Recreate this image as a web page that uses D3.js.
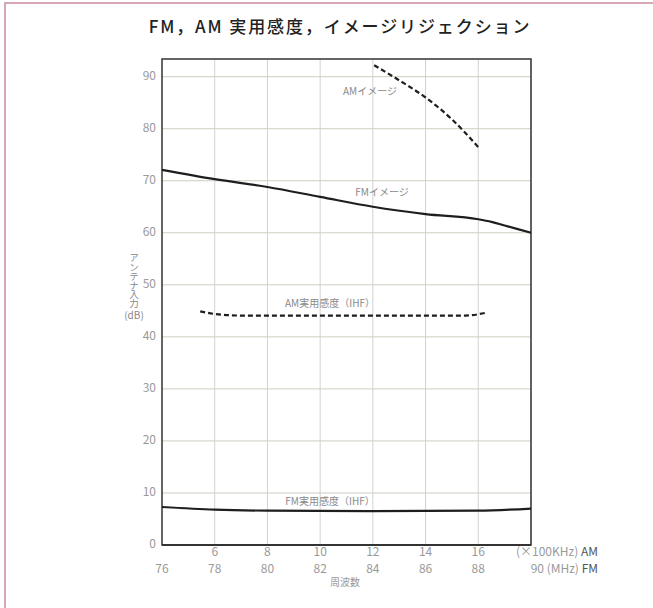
<!DOCTYPE html>
<html lang="ja">
  <head>
    <meta charset="UTF-8" />
    <title>FM, AM 実用感度, イメージリジェクション</title>
    <script src="https://cdnjs.cloudflare.com/ajax/libs/d3/7.8.5/d3.min.js"></script>
    <style>
      body { margin: 0; background: #fff; }
      text { font-family: 'Noto Sans CJK JP', 'Noto Sans', sans-serif; }
    </style>
  </head>
  <body>
    <svg width="653" height="608"></svg>

    <script>
      // FM frequency (MHz) for the FM curves
      const fmImageFreq = [76, 78, 80, 82, 84, 86, 88, 88.5, 89, 90]
      const fmImage = [72.1, 70.3, 68.8, 66.9, 65.0, 63.6, 62.6, 62.1, 61.4, 60.0]
      const fmSensFreq = [76, 78, 80, 84, 88, 90]
      const fmSens = [7.3, 6.8, 6.6, 6.5, 6.6, 7.0]
      // AM frequency (x100kHz) for the AM curves
      const amImageFreq = [12.05, 13, 14, 15, 16.05]
      const amImage = [92.2, 89.3, 86.0, 81.8, 76.2]
      const amSensFreq = [5.45, 6, 7, 8, 10, 12, 14, 15.5, 16.35]
      const amSens = [44.9, 44.4, 44.1, 44.1, 44.1, 44.1, 44.1, 44.1, 44.7]

      const fmTicks = [76, 78, 80, 82, 84, 86, 88]
      const amTicks = [6, 8, 10, 12, 14, 16]
      const yTicks = [0, 10, 20, 30, 40, 50, 60, 70, 80, 90]

      const svg = d3.select('svg')
      const plotL = 162, plotR = 531, plotT = 59, plotB = 545

      // FM scale, AM scale shares the same pixel range (AM 6 = FM 78)
      const x = d3.scaleLinear().domain([76, 90]).range([plotL, plotR])
      const xAm = d3.scaleLinear().domain([4, 18]).range([plotL, plotR])
      const y = d3.scaleLinear().domain([0, 93.4]).range([plotB, plotT])

      // pink page frame (top + left)
      svg.append('line').attr('x1', 4).attr('x2', 653).attr('y1', 3).attr('y2', 3)
        .attr('stroke', '#d9a6b4').attr('stroke-width', 2)
      svg.append('line').attr('x1', 5).attr('x2', 5).attr('y1', 3).attr('y2', 608)
        .attr('stroke', '#d9a6b4').attr('stroke-width', 2)

      // title
      svg.append('text')
        .attr('x', 340).attr('y', 33)
        .attr('text-anchor', 'middle')
        .style('font-size', '17px').style('font-weight', 500)
        .style('letter-spacing', '1.9px')
        .attr('fill', '#222')
        .text('FM，AM 実用感度，イメージリジェクション')

      // grid
      const grid = svg.append('g')
      grid.selectAll('line.h')
        .data(yTicks.filter((d) => d > 0))
        .enter().append('line')
        .attr('x1', plotL).attr('x2', plotR)
        .attr('y1', (d) => y(d)).attr('y2', (d) => y(d))
        .attr('stroke', '#c9cfc0').attr('stroke-width', 1)
      grid.selectAll('line.v')
        .data(fmTicks.slice(1).concat([90]))
        .enter().append('line')
        .attr('x1', (d) => x(d)).attr('x2', (d) => x(d))
        .attr('y1', plotT).attr('y2', plotB)
        .attr('stroke', '#d2d2d2').attr('stroke-width', 1)

      // plot frame
      svg.append('rect')
        .attr('x', plotL).attr('y', plotT)
        .attr('width', plotR - plotL).attr('height', plotB - plotT)
        .attr('fill', 'none').attr('stroke', '#333').attr('stroke-width', 1.5)
      svg.append('line').attr('x1', plotL).attr('x2', plotR)
        .attr('y1', plotB).attr('y2', plotB)
        .attr('stroke', '#333').attr('stroke-width', 2.2)

      // y tick labels
      svg.append('g').selectAll('text')
        .data(yTicks).enter().append('text')
        .attr('x', 156).attr('y', (d) => y(d))
        .attr('text-anchor', 'end').attr('dominant-baseline', 'middle')
        .style('font-size', '12px').attr('fill', '#9a9a9a')
        .text((d) => d)

      // y axis label, written vertically
      svg.append('text')
        .attr('x', 134).attr('y', 253)
        .style('writing-mode', 'vertical-rl')
        .style('text-orientation', 'upright')
        .style('font-size', '9.5px').style('letter-spacing', '-0.3px')
        .attr('fill', '#888')
        .text('アンテナ入力')
      svg.append('text').attr('x', 134).attr('y', 316)
        .attr('text-anchor', 'middle').attr('dominant-baseline', 'middle')
        .style('font-size', '10px').attr('fill', '#888').text('(dB)')

      // x tick labels: AM row and FM row
      svg.append('g').selectAll('text')
        .data(amTicks).enter().append('text')
        .attr('x', (d) => xAm(d)).attr('y', 553)
        .attr('text-anchor', 'middle').attr('dominant-baseline', 'middle')
        .style('font-size', '12px').attr('fill', '#9a9a9a')
        .text((d) => d)
      svg.append('g').selectAll('text')
        .data(fmTicks).enter().append('text')
        .attr('x', (d) => x(d)).attr('y', 570)
        .attr('text-anchor', 'middle').attr('dominant-baseline', 'middle')
        .style('font-size', '12px').attr('fill', '#9a9a9a')
        .text((d) => d)

      const amUnit = svg.append('text').attr('x', 598).attr('y', 553)
        .attr('text-anchor', 'end').attr('dominant-baseline', 'middle')
        .style('font-size', '12px').attr('fill', '#9a9a9a')
      amUnit.append('tspan').text('(×100KHz) ')
      amUnit.append('tspan').attr('fill', '#555').text('AM')
      const fmUnit = svg.append('text').attr('x', 598).attr('y', 570)
        .attr('text-anchor', 'end').attr('dominant-baseline', 'middle')
        .style('font-size', '12px').attr('fill', '#9a9a9a')
      fmUnit.append('tspan').text('90 (MHz) ')
      fmUnit.append('tspan').attr('fill', '#555').text('FM')

      svg.append('text').attr('x', 345).attr('y', 583)
        .attr('text-anchor', 'middle').attr('dominant-baseline', 'middle')
        .style('font-size', '10px').attr('fill', '#999').text('周波数')

      // curves
      function drawCurve(freqs, vals, sx, dashed) {
        const pts = freqs.map((f, i) => [sx(f), y(vals[i])])
        svg.append('path')
          .attr('d', d3.line().curve(d3.curveMonotoneX)(pts))
          .attr('fill', 'none').attr('stroke', '#1e1e1e')
          .attr('stroke-width', 2.2)
          .attr('stroke-dasharray', dashed ? '5,3' : null)
      }
      drawCurve(fmImageFreq, fmImage, x, false)
      drawCurve(fmSensFreq, fmSens, x, false)
      drawCurve(amImageFreq, amImage, xAm, true)
      drawCurve(amSensFreq, amSens, xAm, true)

      // curve labels
      const labels = [
        { t: 'AMイメージ', x: 370, y: 92 },
        { t: 'FMイメージ', x: 382, y: 193 },
        { t: 'AM実用感度（IHF）', x: 330, y: 304 },
        { t: 'FM実用感度（IHF）', x: 330, y: 502 },
      ]
      svg.append('g').selectAll('text')
        .data(labels).enter().append('text')
        .attr('x', (d) => d.x).attr('y', (d) => d.y)
        .attr('text-anchor', 'middle').attr('dominant-baseline', 'middle')
        .style('font-size', '10px').attr('fill', '#8a8a8a')
        .text((d) => d.t)
    </script>
  </body>
</html>
